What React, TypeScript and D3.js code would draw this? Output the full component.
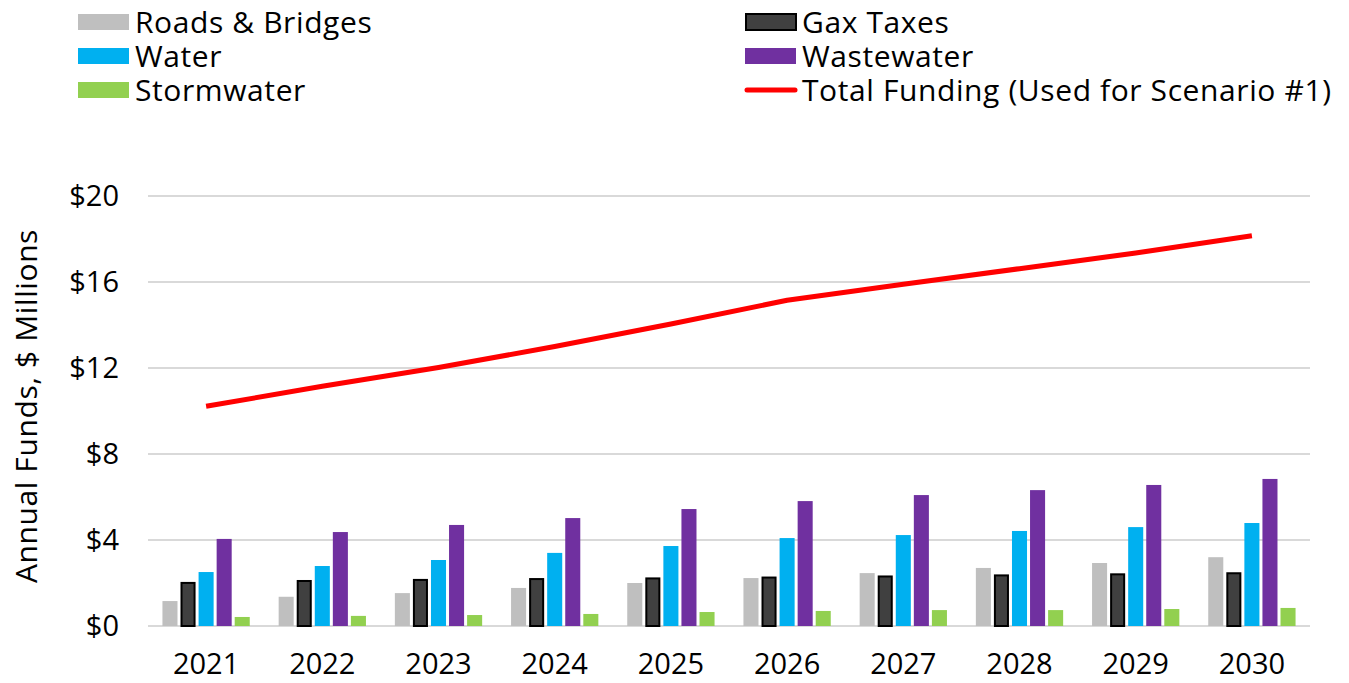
import React from "react";
import * as d3 from "d3";

const years = ["2021", "2022", "2023", "2024", "2025", "2026", "2027", "2028", "2029", "2030"];
const roads = [1.16, 1.36, 1.53, 1.77, 2.0, 2.23, 2.46, 2.7, 2.93, 3.2];
const gasTaxes = [2.05, 2.14, 2.19, 2.23, 2.26, 2.3, 2.35, 2.4, 2.45, 2.5];
const water = [2.51, 2.79, 3.07, 3.4, 3.72, 4.09, 4.23, 4.42, 4.6, 4.79];
const wastewater = [4.05, 4.37, 4.7, 5.02, 5.44, 5.81, 6.09, 6.32, 6.56, 6.84];
const stormwater = [0.42, 0.47, 0.51, 0.56, 0.65, 0.7, 0.74, 0.74, 0.79, 0.84];
const totalFunding = [10.22, 11.15, 12.02, 13.0, 14.05, 15.15, 15.9, 16.62, 17.35, 18.15];
const yTicks = [0, 4, 8, 12, 16, 20];

const series = [
  { name: "Roads & Bridges", values: roads, fill: "#bfbfbf", stroke: "none" },
  { name: "Gax Taxes", values: gasTaxes, fill: "#404040", stroke: "#000000" },
  { name: "Water", values: water, fill: "#00b0f0", stroke: "none" },
  { name: "Wastewater", values: wastewater, fill: "#7030a0", stroke: "none" },
  { name: "Stormwater", values: stormwater, fill: "#92d050", stroke: "none" },
];

const W = 1349;
const H = 683;
const font = "'Open Sans', Lato, sans-serif";
const fs = 29;

export default function App() {
  const margin = { top: 196, right: 39, bottom: 57, left: 148 };

  const x0 = d3
    .scaleBand()
    .domain(years)
    .range([margin.left, W - margin.right]);

  const x1 = d3
    .scaleBand()
    .domain(series.map((s) => s.name))
    .range([0, x0.bandwidth()])
    .paddingInner(0.167)
    .paddingOuter(0.8);

  const y = d3
    .scaleLinear()
    .domain([0, 20])
    .range([H - margin.bottom, margin.top]);

  const line = d3
    .line<number>()
    .x((d, i) => x0(years[i])! + x0.bandwidth() / 2)
    .y((d) => y(d));

  // legend layout: two columns, three rows
  const legendItems = [
    { name: "Roads & Bridges", kind: "rect", fill: "#bfbfbf", stroke: "none", col: 0, row: 0 },
    { name: "Water", kind: "rect", fill: "#00b0f0", stroke: "none", col: 0, row: 1 },
    { name: "Stormwater", kind: "rect", fill: "#92d050", stroke: "none", col: 0, row: 2 },
    { name: "Gax Taxes", kind: "rect", fill: "#404040", stroke: "#000000", col: 1, row: 0 },
    { name: "Wastewater", kind: "rect", fill: "#7030a0", stroke: "none", col: 1, row: 1 },
    { name: "Total Funding (Used for Scenario #1)", kind: "line", fill: "#ff0000", stroke: "none", col: 1, row: 2 },
  ];
  const colX = [78, 745];

  return (
    <svg width={W} height={H} style={{ position: "absolute", left: 0, top: 0, background: "#fff" }}>
      {/* gridlines */}
      {yTicks.map((t) => (
        <line
          key={t}
          x1={margin.left}
          x2={W - margin.right}
          y1={y(t)}
          y2={y(t)}
          stroke="#d9d9d9"
          strokeWidth={2}
        />
      ))}

      {/* y tick labels */}
      {yTicks.map((t) => (
        <text
          key={"l" + t}
          x={119}
          y={y(t)}
          dy="0.36em"
          textAnchor="end"
          fontFamily={font}
          fontSize={fs}
          fill="#000"
        >
          ${t}
        </text>
      ))}

      {/* y axis title */}
      <text
        transform={`translate(37,${(y(0) + y(20)) / 2 - 5}) rotate(-90)`}
        textAnchor="middle"
        fontFamily={font}
        fontSize={30}
        letterSpacing={0.6}
        fill="#000"
      >
        Annual Funds, $ Millions
      </text>

      {/* bars */}
      {years.map((yr, i) => (
        <g key={yr} transform={`translate(${x0(yr)},0)`}>
          {series.map((s) => {
            const isOutlined = s.stroke !== "none";
            const bx = x1(s.name)!;
            const top = y(s.values[i]);
            return (
              <rect
                key={s.name}
                x={isOutlined ? bx + 1 : bx}
                y={isOutlined ? top + 1 : top}
                width={isOutlined ? x1.bandwidth() - 2 : x1.bandwidth()}
                height={isOutlined ? y(0) - top - 1 : y(0) - top}
                fill={s.fill}
                stroke={s.stroke}
                strokeWidth={isOutlined ? 2 : 0}
              />
            );
          })}
        </g>
      ))}

      {/* total funding line */}
      <path d={line(totalFunding)!} fill="none" stroke="#ff0000" strokeWidth={5} strokeLinejoin="round" />

      {/* x labels */}
      {years.map((yr) => (
        <text
          key={"x" + yr}
          x={x0(yr)! + x0.bandwidth() / 2}
          y={674}
          textAnchor="middle"
          fontFamily={font}
          fontSize={fs}
          fill="#000"
        >
          {yr}
        </text>
      ))}

      {/* legend */}
      {legendItems.map((it) => {
        const lx = colX[it.col];
        const cy = 22 + it.row * 34;
        return (
          <g key={it.name}>
            {it.kind === "rect" ? (
              <rect
                x={it.stroke !== "none" ? lx + 1 : lx}
                y={cy - 8}
                width={it.stroke !== "none" ? 50 : 51}
                height={16}
                fill={it.fill}
                stroke={it.stroke}
                strokeWidth={it.stroke !== "none" ? 2 : 0}
              />
            ) : (
              <line x1={lx + 2} x2={lx + 50} y1={cy} y2={cy} stroke={it.fill} strokeWidth={5} strokeLinecap="round" />
            )}
            <text x={lx + 57} y={cy} dy="0.36em" fontFamily={font} fontSize={30} letterSpacing={0.6} fill="#000">
              {it.name}
            </text>
          </g>
        );
      })}
    </svg>
  );
}
